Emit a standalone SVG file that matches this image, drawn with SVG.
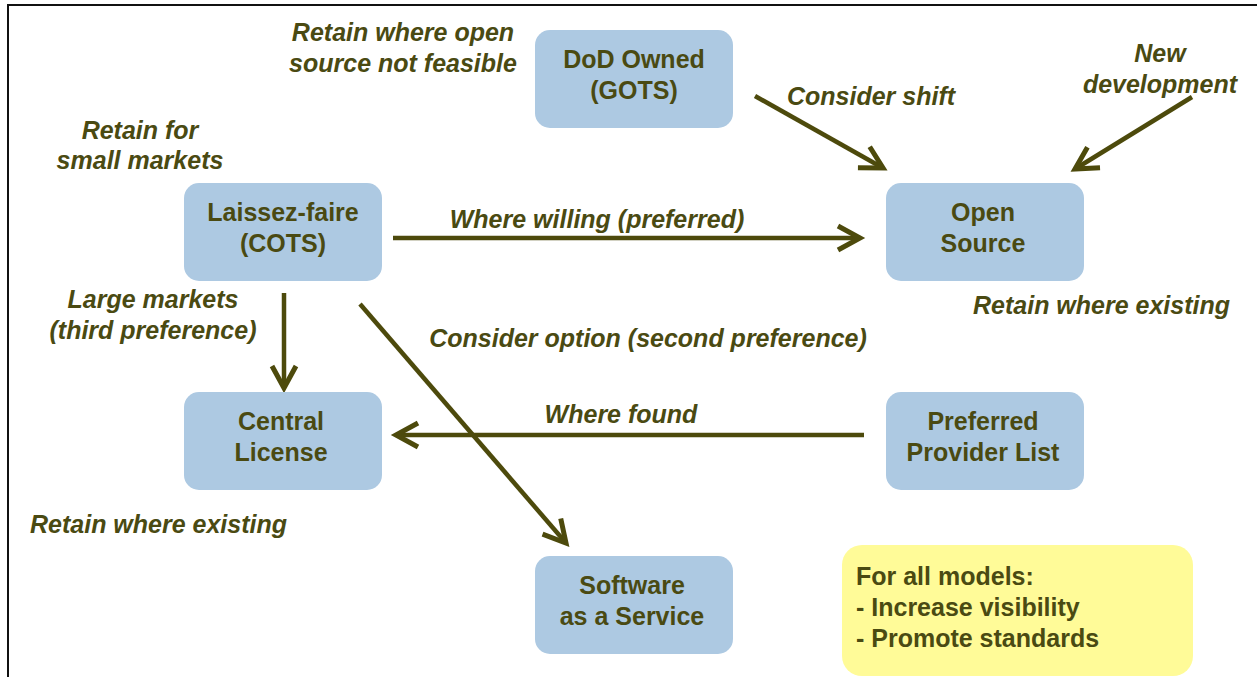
<svg xmlns="http://www.w3.org/2000/svg" width="1257" height="677" viewBox="0 0 1257 677">
<defs>
<style>
.node{fill:#adc9e2;}
.nt{font-family:"Liberation Sans",Arial,sans-serif;font-weight:bold;font-size:25px;fill:#4a4a12;text-anchor:middle;}
.lbl{font-family:"Liberation Sans",Arial,sans-serif;font-weight:bold;font-style:italic;font-size:25px;fill:#4a4a12;}
.c{text-anchor:middle;}
.edge{stroke:#4d4a0c;stroke-width:4.5;fill:none;marker-end:url(#ah);}
.note{fill:#fffb98;}
.nl{font-family:"Liberation Sans",Arial,sans-serif;font-weight:bold;font-size:25px;fill:#4a4a12;}
</style>
<marker id="ah" markerUnits="userSpaceOnUse" markerWidth="40" markerHeight="40" viewBox="-30 -20 40 40" refX="0" refY="0" orient="auto">
<path d="M-22,-12 L0,0 L-22,12" fill="none" stroke="#4d4a0c" stroke-width="5" stroke-linejoin="miter"/>
</marker>
</defs>
<rect x="0" y="0" width="1257" height="677" fill="#ffffff"/>
<path d="M8,677 L8,5 L1257,5" fill="none" stroke="#111" stroke-width="2"/>

<g id="edges">
<line class="edge" x1="755" y1="96" x2="883" y2="168"/>
<line class="edge" x1="1192" y1="97" x2="1075" y2="169"/>
<line class="edge" x1="393" y1="238" x2="860" y2="238"/>
<line class="edge" x1="284" y1="293" x2="284" y2="388"/>
<line class="edge" x1="360" y1="304" x2="566" y2="543"/>
<line class="edge" x1="864" y1="435" x2="396" y2="435"/>
</g>

<g id="dod">
<rect class="node" x="535" y="30" width="198" height="98" rx="15"/>
<text class="nt" x="634" y="68">DoD Owned</text>
<text class="nt" x="634" y="99">(GOTS)</text>
</g>
<g id="laissez">
<rect class="node" x="184" y="183" width="198" height="98" rx="15"/>
<text class="nt" x="283" y="221">Laissez-faire</text>
<text class="nt" x="283" y="252">(COTS)</text>
</g>
<g id="open">
<rect class="node" x="886" y="183" width="198" height="98" rx="15"/>
<text class="nt" x="983" y="221">Open</text>
<text class="nt" x="983" y="252">Source</text>
</g>
<g id="central">
<rect class="node" x="184" y="392" width="198" height="98" rx="15"/>
<text class="nt" x="281" y="430">Central</text>
<text class="nt" x="281" y="461">License</text>
</g>
<g id="preferred">
<rect class="node" x="886" y="392" width="198" height="98" rx="15"/>
<text class="nt" x="983" y="430">Preferred</text>
<text class="nt" x="983" y="461">Provider List</text>
</g>
<g id="saas">
<rect class="node" x="535" y="556" width="198" height="98" rx="15"/>
<text class="nt" x="632" y="594">Software</text>
<text class="nt" x="632" y="625">as a Service</text>
</g>
<g id="note">
<rect class="note" x="842" y="545" width="351" height="131" rx="20"/>
<text class="nl" x="856" y="585">For all models:</text>
<text class="nl" x="856" y="616">- Increase visibility</text>
<text class="nl" x="856" y="647">- Promote standards</text>
</g>

<g id="labels">
<text class="lbl c" x="403" y="41">Retain where open</text>
<text class="lbl c" x="403" y="72">source not feasible</text>
<text class="lbl" x="787" y="105">Consider shift</text>
<text class="lbl c" x="1160" y="62">New</text>
<text class="lbl c" x="1160" y="93">development</text>
<text class="lbl c" x="140" y="139">Retain for</text>
<text class="lbl c" x="140" y="169">small markets</text>
<text class="lbl c" x="597" y="228">Where willing (preferred)</text>
<text class="lbl" x="973" y="314">Retain where existing</text>
<text class="lbl c" x="153" y="308">Large markets</text>
<text class="lbl c" x="153" y="339">(third preference)</text>
<text class="lbl c" x="648" y="347">Consider option (second preference)</text>
<text class="lbl c" x="621" y="423">Where found</text>
<text class="lbl" x="30" y="533">Retain where existing</text>
</g>
</svg>
